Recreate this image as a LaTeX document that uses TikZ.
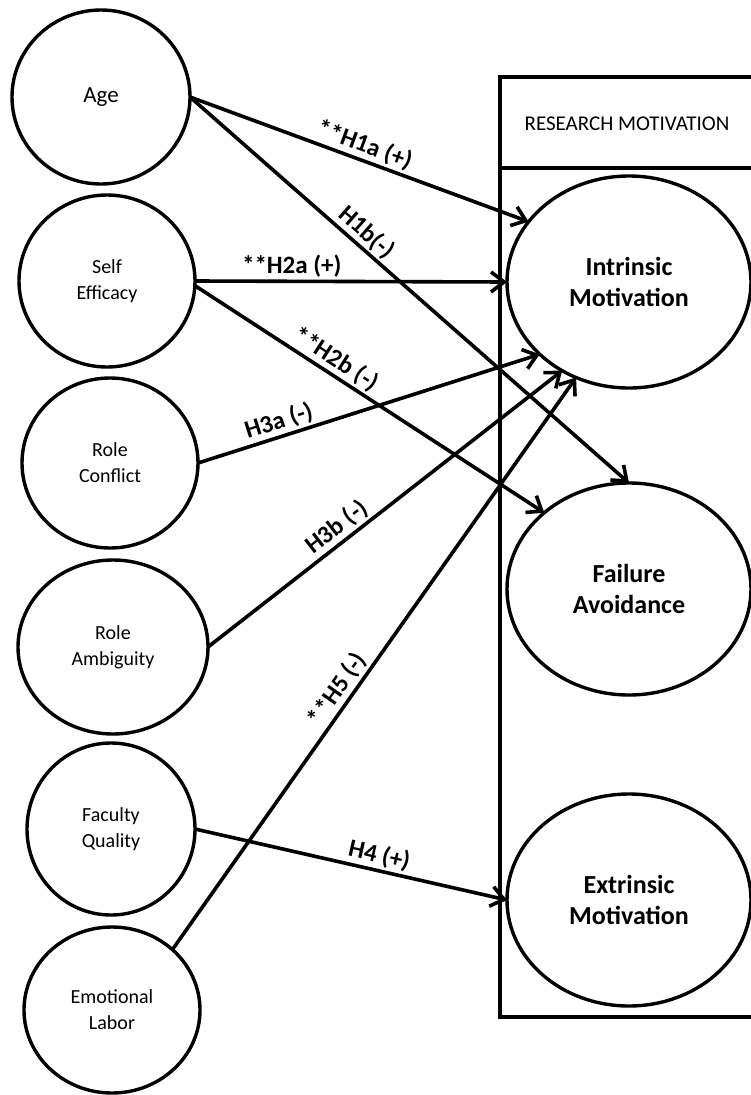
\documentclass[tikz,border=0pt]{standalone}
\usepackage{fontspec}
\setmainfont{Carlito}
\usetikzlibrary{arrows.meta,shapes.geometric}
\begin{document}
\begin{tikzpicture}[x=1pt,y=-1pt,
  every node/.style={inner sep=0pt, outer sep=0pt},
  src/.style={draw, line width=3.4pt, ellipse, align=center, font=\fontsize{20}{26}\selectfont},
  tgt/.style={draw, line width=3.4pt, ellipse, align=center, minimum width=244pt, minimum height=212pt, font=\bfseries\fontsize{26}{31}\selectfont},
  link/.style={line width=3.6pt, -{Straight Barb[length=13pt,width=20pt]}},
  lab/.style={sloped, above, font=\bfseries\fontsize{25}{25}\selectfont, inner sep=4pt},
  frame/.style={line width=3.6pt}
]
\useasboundingbox (0,0) rectangle (751,1095);

% research motivation frame
\draw[frame] (753,77) -- (500,77) -- (500,1017) -- (753,1017);
\draw[frame] (500,168) -- (753,168);
\node[font=\fontsize{21}{21}\selectfont] (hdr) at (627,124) {RESEARCH MOTIVATION};

% source constructs
\node[src, minimum width=178pt, minimum height=174pt, font=\fontsize{23}{28}\selectfont] (age) at (101,97) {Age};
\node[src, minimum width=176pt, minimum height=172pt] (self) at (107,281) {Self\\Efficacy};
\node[src, minimum width=176pt, minimum height=170pt] (rc) at (110,463) {Role\\Conflict};
\node[src, minimum width=190pt, minimum height=174pt] (ra) at (113,647) {Role\\Ambiguity};
\node[src, minimum width=168pt, minimum height=172pt] (fq) at (111,829) {Faculty\\Quality};
\node[src, minimum width=176pt, minimum height=166pt] (el) at (112,1010) {Emotional\\Labor};

% target constructs
\node[tgt] (intr) at (629,282) {Intrinsic\\Motivation};
\node[tgt] (fail) at (629,589) {Failure\\Avoidance};
\node[tgt] (ext) at (629,900) {Extrinsic\\Motivation};

% hypotheses
\draw[link] (age.east) -- node[lab, pos=0.5] {**H1a (+)} (intr.149);
\draw[link] (age.east) -- node[lab, pos=0.38] {H1b(-)} (fail.north);
\draw[link] (self.east) -- node[lab, pos=0.31] {**H2a (+)} (intr.west);
\draw[link] (self.-3) -- node[lab, pos=0.38] {**H2b (-)} (fail.138);
\draw[link] (rc.east) -- node[lab, pos=0.25] {H3a (-)} (intr.219);
\draw[link] (ra.east) -- node[lab, pos=0.39] {H3b (-)} (intr.233);
\draw[link] (el.45) -- node[lab, pos=0.44] {**H5 (-)} (intr.241);
\draw[link] (fq.east) -- node[lab, pos=0.58] {H4 (+)} (ext.west);
\end{tikzpicture}
\end{document}
